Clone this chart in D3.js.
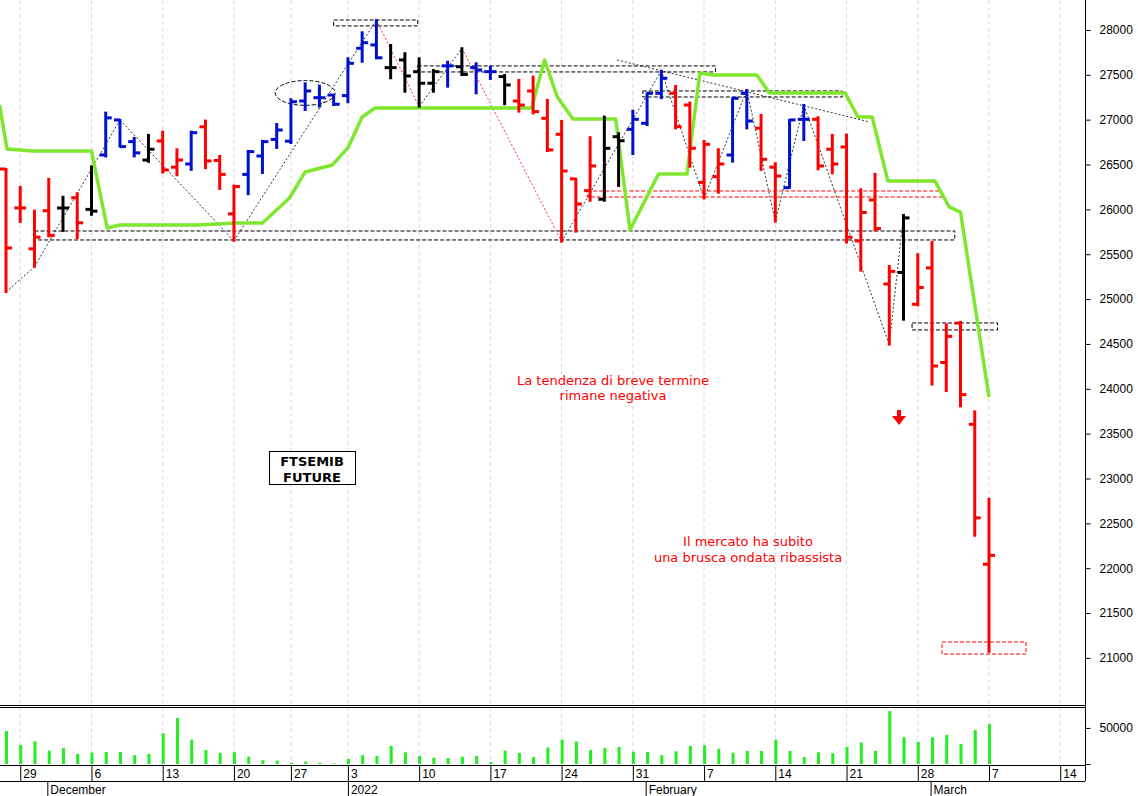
<!DOCTYPE html>
<html>
<head>
<meta charset="utf-8">
<script src="https://cdn.jsdelivr.net/npm/d3@7"></script>
<style>
  body { margin: 0; background: #fff; }
  svg { display: block; }
</style>
</head>
<body>
<svg id="chart" width="1138" height="796"></svg>
<script>
// daily bars, Nov 26 2021 .. Mar 7 2022 (trading days)
const opens  = [26450,26016,25560,25985,26015,26130,26000,26607,26997,26755,26550,26763,26470,26506,26920,26545,25950,26390,26595,26780,26760,27208,27245,27275,27268,27796,27833,27580,27666,27535,27406,27600,27590,27580,27535,27480,27208,27320,27015,26837,26340,26209,26113,26810,26893,26960,27294,27294,27164,26300,26365,26606,27294,26904,26470,26242,27004,27004,26670,26696,25648,26105,25168,25297,24942,25348,24293,24732,23604,22044];
const highs  = [26450,26250,25985,26340,26140,26180,26480,27078,26997,26796,26830,26866,26670,26866,26990,26595,26265,26650,26763,26952,27228,27405,27380,27275,27684,27974,28110,27833,27740,27684,27554,27646,27796,27628,27590,27498,27443,27480,27220,26985,26340,26804,27034,26848,27100,27294,27546,27376,27190,26763,26670,27238,27330,27052,26514,26997,27164,27027,26830,26834,26224,26396,25369,25937,25500,25636,24719,24745,23748,22773];
const lows   = [25079,25860,25360,25700,25760,25680,25940,26590,26700,26590,26530,26410,26380,26440,26460,26228,25650,26170,26406,26685,26740,27108,27145,27163,27194,27646,27684,27462,27312,27145,27312,27368,27498,27294,27454,27172,27090,27070,26650,25640,25752,26097,26097,26261,26617,26941,27240,26904,26476,26122,26186,26532,26904,26440,25863,26242,26774,26447,26402,25630,25317,25766,24493,24771,24930,24047,23975,23804,22362,21068];
const closes = [25570,26016,25690,25710,26015,25850,25980,27020,26700,26630,26670,26440,26550,26855,26540,26390,26255,26644,26755,26885,27200,27320,27245,27172,27628,27858,27690,27580,27487,27406,27535,27600,27505,27554,27535,27387,27163,27090,26663,26428,26060,26484,26681,26765,27004,27294,27462,26922,26681,26725,26506,27238,26985,26558,26372,26997,27004,26484,26506,25690,25965,25786,25309,25905,25129,24254,24584,23935,22561,22143];
// r = red, b = blue, k = black
const barColors = "rrrrkrkbbbkrrbrrrbbbbbbbbbbkkkkbkbbkrrrrrrkkbbbrrrrbbrrbbrrrrrrkrrrrrr";
const volumes = [45600,26300,31600,18400,21900,14000,15800,16700,16700,12300,14000,42600,63700,33800,19300,15400,16200,10100,5300,4800,1800,3500,1800,900,7000,12300,11000,25000,16200,11000,8800,8300,10100,11000,2600,18400,15400,9700,22800,33800,31200,19300,22400,23700,17100,16700,12300,17600,25000,25900,21100,15800,18000,18000,33800,18000,9700,16200,14900,23700,29900,18400,73300,37300,30700,36900,40400,27700,47000,55300];

// green trend line vertices (bar index, price)
const greenIdx = [-0.45,0.07,1.9,6.0,7.1,8.0,13.4,16.2,18.0,19.9,21.0,22.9,24.0,25.0,25.9,36.9,37.8,38.7,39.8,42.8,43.8,45.8,47.8,48.7,49.6,52.7,53.6,58.9,59.8,60.8,61.9,65.2,66.2,67.0,69.0];
const greenVal = [27164,26673,26650,26650,25793,25826,25826,25848,25848,26127,26417,26495,26685,27030,27130,27130,27666,27253,27008,27008,25770,26395,26395,27521,27498,27498,27298,27298,27030,27030,26317,26317,26027,25970,23909];

// date axis
const tickIdx = [1,6,11,16,20,24,29,34,39,44,49,54,59,64,69,74];
const tickLabels = ["29","6","13","20","27","3","10","17","24","31","7","14","21","28","7","14"];
const monthIdx = [2.9,24,44.9,64.9];
const monthLabels = ["December","2022","February","March"];
const priceTicks = d3.range(21000, 28001, 500);

// zigzag swing points (bar index, H/L)
const zigIdx  = [0,2,8,16,26,29,32,39,46,49,52,54,56,62,63];
const zigSide = "LLHLHLHLHLHLHLH";
const zigRed  = [4,6]; // segments starting here drawn red

// dashed boxes: [idx0, idx1, priceTop, priceBottom, colour]
const boxI0 = [23.0,28.9,44.7,40.8,2.0,63.6,65.7];
const boxI1 = [28.9,49.8,58.7,65.7,66.6,69.6,71.6];
const boxP0 = [28111,27599,27320,26205,25759,24734,21177];
const boxP1 = [28045,27532,27253,26138,25659,24656,21043];
const boxCol = ["#000","#000","#000","#f00","#000","#000","#f00"];

const svg = d3.select('#chart');
const x = d3.scaleLinear().domain([0, 69]).range([6, 989]);
const y = d3.scaleLinear().domain([20475, 28334]).range([705, 0]);
const yv = d3.scaleLinear().domain([0, 79000]).range([764, 707]);
const colorOf = { r: '#ff0000', b: '#0010cc', k: '#000000' };

// grid
svg.append('g').selectAll('line').data(tickIdx).join('line')
  .attr('x1', d => x(d)).attr('x2', d => x(d))
  .attr('y1', 0).attr('y2', 765)
  .attr('stroke', '#d8d8d8').attr('stroke-dasharray', '4,3');

// frame
const frame = svg.append('g').attr('stroke', '#000').attr('stroke-width', 1);
frame.append('line').attr('x1', 1085.5).attr('x2', 1085.5).attr('y1', 0).attr('y2', 781);
[705.5, 707.5, 765.5, 781.5].forEach(v =>
  frame.append('line').attr('x1', 0).attr('x2', 1085).attr('y1', v).attr('y2', v));

// right price axis
const yAxis = d3.axisRight(y).tickValues(priceTicks).tickSize(5).tickFormat(d3.format('d'));
svg.append('g').attr('transform', 'translate(1085.5,0)').call(yAxis)
  .call(g => g.select('.domain').remove())
  .call(g => g.selectAll('text').attr('x', 14).attr('font-family', 'Liberation Sans, Arial').attr('font-size', 12));
const vAxis = d3.axisRight(yv).tickValues([0, 50000]).tickSize(5).tickFormat(d => d ? d : '');
svg.append('g').attr('transform', 'translate(1085.5,0)').call(vAxis)
  .call(g => g.select('.domain').remove())
  .call(g => g.selectAll('text').attr('x', 14).attr('font-family', 'Liberation Sans, Arial').attr('font-size', 12));

// date axis
const dates = svg.append('g').attr('font-family', 'Liberation Sans, Arial').attr('font-size', 12);
dates.selectAll('line').data(tickIdx).join('line')
  .attr('x1', d => x(d) + 0.5).attr('x2', d => x(d) + 0.5).attr('y1', 766).attr('y2', 781).attr('stroke', '#000');
dates.selectAll('text').data(tickIdx).join('text')
  .attr('x', d => x(d) + 3).attr('y', 778).text((d, i) => tickLabels[i]);
const months = svg.append('g').attr('font-family', 'Liberation Sans, Arial').attr('font-size', 12);
months.selectAll('line').data(monthIdx).join('line')
  .attr('x1', d => x(d) + 0.5).attr('x2', d => x(d) + 0.5).attr('y1', 782).attr('y2', 796).attr('stroke', '#000');
months.selectAll('text').data(monthIdx).join('text')
  .attr('x', d => x(d) + 3).attr('y', 794).text((d, i) => monthLabels[i]);

// dashed boxes
svg.append('g').selectAll('rect').data(boxI0).join('rect')
  .attr('x', (d, i) => x(d)).attr('width', (d, i) => x(boxI1[i]) - x(d))
  .attr('y', (d, i) => y(boxP0[i])).attr('height', (d, i) => y(boxP1[i]) - y(boxP0[i]))
  .attr('fill', 'none').attr('stroke', (d, i) => boxCol[i]).attr('stroke-dasharray', '4,2');

// ellipse around consolidation
svg.append('ellipse').attr('cx', x(21)).attr('cy', y(27298))
  .attr('rx', x(23.1) - x(21)).attr('ry', y(27160) - y(27298))
  .attr('fill', 'none').attr('stroke', '#000').attr('stroke-dasharray', '4,2');

// zigzag
const zigPts = zigIdx.map((d, i) => [x(d), y(zigSide[i] === 'H' ? highs[d] : lows[d])]);
svg.append('g').selectAll('line').data(zigPts.slice(1)).join('line')
  .attr('x1', (d, i) => zigPts[i][0]).attr('y1', (d, i) => zigPts[i][1])
  .attr('x2', d => d[0]).attr('y2', d => d[1])
  .attr('stroke', (d, i) => zigRed.includes(i) ? '#f00' : '#000')
  .attr('stroke-width', 0.8).attr('stroke-dasharray', '2,2');
// declining trendline
svg.append('line').attr('x1', x(42.9)).attr('y1', y(27666)).attr('x2', x(60.6)).attr('y2', y(26975))
  .attr('stroke', '#000').attr('stroke-width', 0.8).attr('stroke-dasharray', '2,2');

// green line
svg.append('path').datum(greenIdx)
  .attr('d', d3.line().x(d => x(d)).y((d, i) => y(greenVal[i])))
  .attr('fill', 'none').attr('stroke', '#7fe82e').attr('stroke-width', 3.5).attr('stroke-linejoin', 'round');

// OHLC bars
const bars = svg.append('g').selectAll('g').data(opens).join('g')
  .attr('stroke', (d, i) => colorOf[barColors[i]]).attr('stroke-width', 3);
bars.append('line').attr('x1', (d, i) => x(i)).attr('x2', (d, i) => x(i))
  .attr('y1', (d, i) => y(highs[i]) - 1).attr('y2', (d, i) => y(lows[i]) + 1);
bars.append('line').attr('x1', (d, i) => x(i) - 6).attr('x2', (d, i) => x(i))
  .attr('y1', d => y(d)).attr('y2', d => y(d));
bars.append('line').attr('x1', (d, i) => x(i)).attr('x2', (d, i) => x(i) + 6)
  .attr('y1', (d, i) => y(closes[i])).attr('y2', (d, i) => y(closes[i]));

// volume
svg.append('g').selectAll('rect').data(volumes).join('rect')
  .attr('x', (d, i) => x(i) - 1).attr('width', 3)
  .attr('y', d => yv(d)).attr('height', d => yv(0) - yv(d))
  .attr('fill', '#22ee22');

// annotations
const note = svg.append('g').attr('font-family', 'DejaVu Sans, Verdana').attr('font-size', 13)
  .attr('fill', '#f00').attr('text-anchor', 'middle');
note.append('text').attr('x', 613).attr('y', 385).text('La tendenza di breve termine');
note.append('text').attr('x', 613).attr('y', 400).text('rimane negativa');
note.append('text').attr('x', 748).attr('y', 546).text('Il mercato ha subito');
note.append('text').attr('x', 748).attr('y', 562).text('una brusca ondata ribassista');

svg.append('rect').attr('x', 269.5).attr('y', 451.5).attr('width', 86).attr('height', 33)
  .attr('fill', '#fff').attr('stroke', '#000');
const lbl = svg.append('g').attr('font-family', 'DejaVu Sans, Verdana').attr('font-size', 13)
  .attr('font-weight', 'bold').attr('text-anchor', 'middle');
lbl.append('text').attr('x', 312).attr('y', 466).text('FTSEMIB');
lbl.append('text').attr('x', 312).attr('y', 482).text('FUTURE');

// down arrow
svg.append('path').attr('d', 'M897,410 v6 h-5 l7,9 l7,-9 h-5 v-6 z').attr('fill', '#f00');
</script>
</body>
</html>
